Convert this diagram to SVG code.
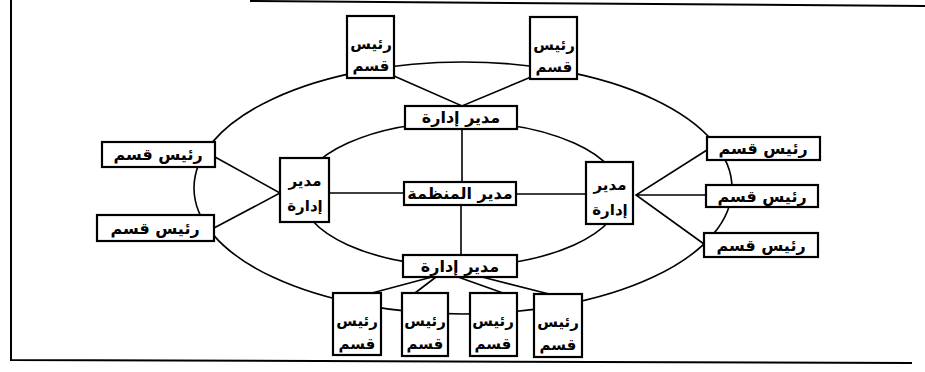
<svg xmlns="http://www.w3.org/2000/svg" width="925" height="372" viewBox="0 0 925 372">
<style>
.box{fill:#fff;stroke:#000;stroke-width:2.2}
.ln{fill:none;stroke:#000;stroke-width:1.6}
.fr{fill:none;stroke:#000;stroke-width:2}
text{font-family:"DejaVu Sans",sans-serif;font-weight:bold;font-size:15px;text-anchor:middle;fill:#000}
.w{font-size:16px}
</style>
<rect width="925" height="372" fill="#fff"/>
<g id="frame">
<path class="fr" d="M11,0 V360 L912,363"/>
<path class="fr" d="M250,1 L925,6"/>
</g>
<g id="connectors">
<ellipse class="ln" cx="463" cy="188" rx="269" ry="126"/>
<ellipse class="ln" cx="461" cy="194" rx="160" ry="72"/>
<path class="ln" d="M394,76 L462,106 L531,77"/>
<path class="ln" d="M462,129 V182 M461,205 V255"/>
<path class="ln" d="M329,193 H404 M516,194 H586"/>
<path class="ln" d="M215,157 L280,193 L214,228"/>
<path class="ln" d="M707,150 L636,195 L704,244 M636,195 H706"/>
<path class="ln" d="M432,277 L372,293 M436,277 L415,293 M458,277 L503,293 M482,277 L549,294"/>
</g>
<g id="head-top-left"><rect class="box" x="347" y="16" width="47" height="62"/><text x="371" y="49">رئيس</text><text x="371" y="71">قسم</text></g>
<g id="head-top-right"><rect class="box" x="530" y="17" width="47" height="62"/><text x="554" y="50">رئيس</text><text x="554" y="72">قسم</text></g>
<g id="mgr-top"><rect class="box" x="405" y="106" width="112" height="23"/><text class="w" x="461" y="123">مدير إدارة</text></g>
<g id="ceo"><rect class="box" x="404" y="182" width="112" height="23"/><text class="w" x="460" y="199">مدير المنظمة</text></g>
<g id="mgr-left"><rect class="box" x="280" y="158" width="49" height="64"/><text x="305" y="186">مدير</text><text x="305" y="211">إدارة</text></g>
<g id="mgr-right"><rect class="box" x="586" y="162" width="47" height="62"/><text x="610" y="190">مدير</text><text x="610" y="215">إدارة</text></g>
<g id="mgr-bottom"><rect class="box" x="403" y="255" width="114" height="22"/><text class="w" x="460" y="272">مدير إدارة</text></g>
<g id="head-left-1"><rect class="box" x="102" y="142" width="113" height="25"/><text class="w" x="158" y="160">رئيس قسم</text></g>
<g id="head-left-2"><rect class="box" x="97" y="215" width="117" height="26"/><text class="w" x="155" y="234">رئيس قسم</text></g>
<g id="head-right-1"><rect class="box" x="707" y="137" width="113" height="23"/><text class="w" x="763" y="154">رئيس قسم</text></g>
<g id="head-right-2"><rect class="box" x="706" y="185" width="112" height="22"/><text class="w" x="762" y="202">رئيس قسم</text></g>
<g id="head-right-3"><rect class="box" x="704" y="233" width="114" height="24"/><text class="w" x="761" y="251">رئيس قسم</text></g>
<g id="head-bottom-1"><rect class="box" x="333" y="293" width="48" height="62"/><text x="357" y="326">رئيس</text><text x="357" y="349">قسم</text></g>
<g id="head-bottom-2"><rect class="box" x="402" y="293" width="46" height="63"/><text x="425" y="326">رئيس</text><text x="425" y="349">قسم</text></g>
<g id="head-bottom-3"><rect class="box" x="470" y="293" width="47" height="63"/><text x="493" y="326">رئيس</text><text x="493" y="349">قسم</text></g>
<g id="head-bottom-4"><rect class="box" x="534" y="294" width="48" height="63"/><text x="558" y="327">رئيس</text><text x="558" y="350">قسم</text></g>
</svg>
